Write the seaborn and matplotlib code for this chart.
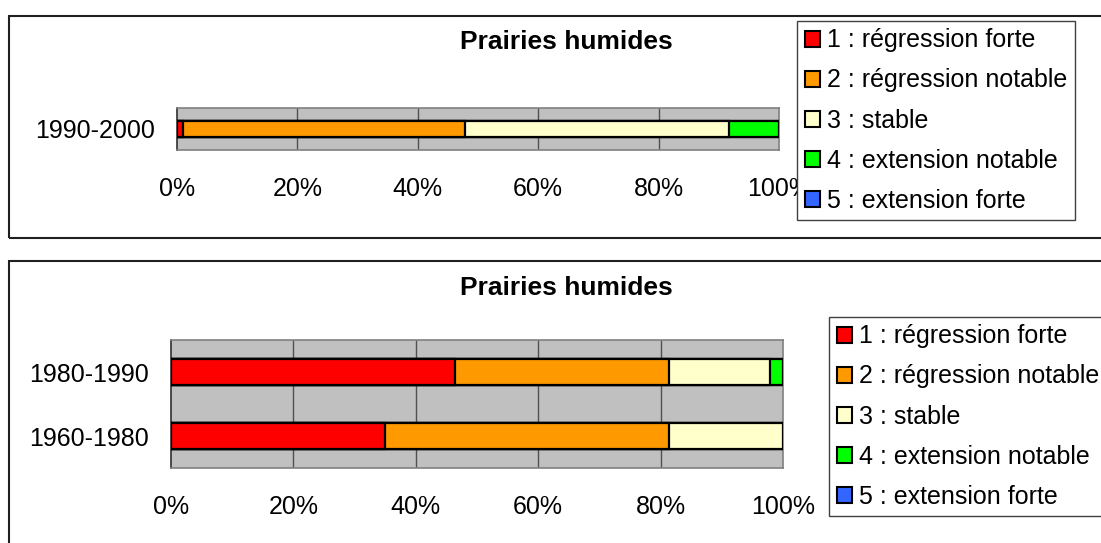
import matplotlib
matplotlib.use("Agg")
import matplotlib.pyplot as plt
from matplotlib.patches import Rectangle, Patch
import numpy as np
import pandas as pd
import seaborn as sns

# ---- data ----
classes = ["1 : régression forte", "2 : régression notable", "3 : stable",
           "4 : extension notable", "5 : extension forte"]
colors = ["#FF0000", "#FF9900", "#FFFFCC", "#00FF00", "#3366FF"]

periods_top = ["1990-2000"]
values_1990_2000 = [1.0, 46.8, 43.9, 8.3, 0.0]

periods_bottom = ["1980-1990", "1960-1980"]
values_1980_1990 = [46.4, 34.9, 16.5, 2.2, 0.0]
values_1960_1980 = [35.0, 46.3, 18.7, 0.0, 0.0]

title = "Prairies humides"
xticks = [0, 20, 40, 60, 80, 100]
xticklabels = ["0%", "20%", "40%", "60%", "80%", "100%"]

sns.set_style("white")
plt.rcParams["font.family"] = ["Liberation Sans", "DejaVu Sans"]
plt.rcParams["text.color"] = "black"
plt.rcParams["xtick.labelcolor"] = "black"
plt.rcParams["ytick.labelcolor"] = "black"

W, H = 1101, 543
fig = plt.figure(figsize=(W / 100, H / 100), dpi=100)
fig.patch.set_facecolor("white")

FS = 18
FS_LEG = 18
FS_TITLE = 19


def fx(px):
    return px / W


def fy(py):
    return 1 - py / H


def draw_panel(ax, periods, rows, bar_w):
    df = pd.DataFrame(rows, columns=classes)
    df.insert(0, "period", periods)
    cum = df[classes].cumsum(axis=1)
    # draw cumulative bars from the last class to the first
    for i in range(len(classes) - 1, -1, -1):
        d = pd.DataFrame({"period": periods, "val": cum[classes[i]].values})
        sns.barplot(data=d, x="val", y="period", order=periods, orient="h",
                    color=colors[i], saturation=1, width=bar_w,
                    edgecolor="black", linewidth=1.6, ax=ax, zorder=3)
    ax.set_facecolor("#C0C0C0")
    ax.set_xlim(0, 100)
    n = len(periods)
    ax.set_ylim(n - 0.5, -0.5)
    ax.set_xlabel("")
    ax.set_ylabel("")
    ax.set_xticks(xticks)
    ax.set_xticklabels(xticklabels, fontsize=FS, color="black")
    ax.tick_params(axis="x", length=7, width=1, color="#404040", pad=12.5,
                   labelcolor="black")
    ax.tick_params(axis="y", which="major", length=0, pad=16, labelsize=FS,
                   labelcolor="black")
    ax.set_yticks(np.arange(-0.5, n, 1.0), minor=True)
    ax.tick_params(axis="y", which="minor", length=7, width=1, color="#404040")
    for xv in xticks[1:-1]:
        ax.axvline(xv, color="#505050", lw=1, zorder=1)
    for s in ["top", "right", "bottom"]:
        ax.spines[s].set_color("#808080")
        ax.spines[s].set_linewidth(1.2)
        ax.spines[s].set_visible(True)
    ax.spines["left"].set_color("#303030")
    ax.spines["left"].set_linewidth(1.2)
    ax.spines["left"].set_visible(True)
    if ax.get_legend() is not None:
        ax.get_legend().remove()


# panel borders
fig.patches.append(Rectangle((fx(9), fy(238)), fx(1110 - 9), fy(16) - fy(238),
                             transform=fig.transFigure, fill=False,
                             edgecolor="#202020", lw=1.5, zorder=0))
fig.patches.append(Rectangle((fx(9), fy(560)), fx(1110 - 9), fy(261) - fy(560),
                             transform=fig.transFigure, fill=False,
                             edgecolor="#202020", lw=1.5, zorder=0))

# top chart
ax1 = fig.add_axes([fx(177), fy(150), fx(779 - 177), fy(108) - fy(150)])
draw_panel(ax1, periods_top, [values_1990_2000], 0.36)

# bottom chart
ax2 = fig.add_axes([fx(171), fy(468), fx(783 - 171), fy(340) - fy(468)])
draw_panel(ax2, periods_bottom, [values_1980_1990, values_1960_1980], 0.4)

fig.text(fx(566), fy(42), title, ha="center", va="center",
         fontsize=FS_TITLE, fontweight="bold", color="black")
fig.text(fx(566), fy(288), title, ha="center", va="center",
         fontsize=FS_TITLE, fontweight="bold", color="black")

handles = [Patch(facecolor=c, edgecolor="black", lw=1.5) for c in colors]


def add_legend(x0, y0):
    leg = fig.legend(handles, classes, loc="upper left",
                     bbox_to_anchor=(fx(x0), fy(y0)),
                     bbox_transform=fig.transFigure, borderaxespad=0,
                     fontsize=FS_LEG, frameon=True, fancybox=False, shadow=False,
                     framealpha=1, edgecolor="#404040", handlelength=0.6,
                     handleheight=0.6, handletextpad=0.3, labelspacing=0.64,
                     borderpad=0.3, labelcolor="black")
    leg.get_frame().set_linewidth(1.0)
    return leg


add_legend(797, 21)
add_legend(829, 317)

fig.savefig("out.png", dpi=100, facecolor="white")
